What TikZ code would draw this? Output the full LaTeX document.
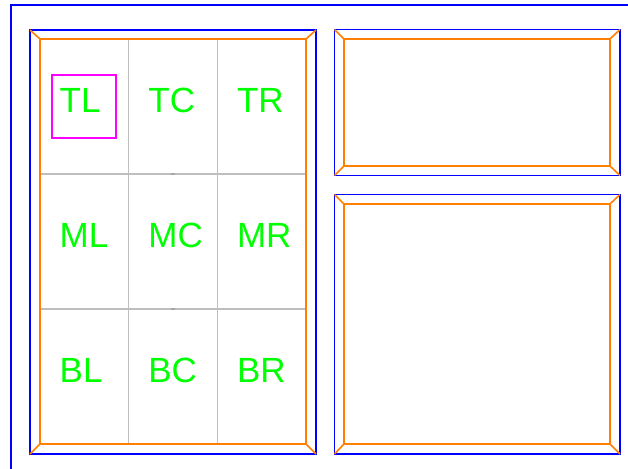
\documentclass[tikz,border=0pt]{standalone}
\usepackage{fontspec}
\setmainfont{Liberation Sans}
\usepackage{tikz}
\usetikzlibrary{positioning, calc}

\definecolor{frameblue}{RGB}{0,0,255}
\definecolor{bevelorange}{RGB}{255,128,0}
\definecolor{cellgray}{RGB}{190,190,190}
\definecolor{markgray}{RGB}{165,165,165}
\definecolor{labelgreen}{RGB}{0,255,0}
\definecolor{hilite}{RGB}{255,0,255}

\begin{document}
\begin{tikzpicture}[x=1pt, y=-1pt,
    outerbox/.style={draw=frameblue, line width=1.6pt, inner sep=0pt, outer sep=0pt},
    innerbox/.style={draw=bevelorange, line width=1.6pt, inner sep=0pt, outer sep=0pt},
    bevel/.style={draw=bevelorange, line width=1.6pt},
    cell/.style={draw=cellgray, line width=1.1pt, inner sep=0pt, outer sep=0pt, minimum width=88.67pt, minimum height=135pt},
    lbl/.style={text=labelgreen, inner sep=0pt, font=\fontsize{35}{40}\selectfont}]
    \useasboundingbox (0,0) rectangle (628,468);
    \fill[white] (0,0) rectangle (628,468);

    % outer frame runs off the page
    \node [outerbox, minimum width=640pt, minimum height=480pt] (page) at (331,245) {};

    % left panel
    \node [outerbox, minimum width=286pt, minimum height=424pt] (leftp) at (173,242) {};
    \node [innerbox, minimum width=266pt, minimum height=405pt] (lefti) at (173,241.5) {};

    % right panels
    \node [outerbox, minimum width=285.5pt, minimum height=146pt] (topp) at (477.25,102.5) {};
    \node [innerbox, minimum width=266pt, minimum height=127pt] (topi) at (477,102.5) {};
    \node [outerbox, minimum width=285.5pt, minimum height=259.5pt] (botp) at (477.25,324.25) {};
    \node [innerbox, minimum width=266pt, minimum height=240pt] (boti) at (477,324) {};

    % bevel corners
    \foreach \o/\i in {leftp/lefti, topp/topi, botp/boti} {
        \foreach \c in {north west, north east, south west, south east}
            \draw [bevel] (\o.\c) -- (\i.\c);
    }

    % 3x3 grid
    \foreach \r/\y in {T/106.5, M/241.5, B/376.5} {
        \foreach \c/\x in {L/84.33, C/173, R/261.67} {
            \node [cell] (c\r\c) at (\x,\y) {};
            \node [lbl, anchor=base west] (t\r\c) at ($(c\r\c.north west)+(19.5,73)$) {\r\c};
        }
    }
    \draw [innerbox, fill=none] (lefti.north west) rectangle (lefti.south east);

    % small marks on the middle column
    \draw [markgray, line width=1.8pt] ($(cMC.north)+(-2,0)$) -- ($(cMC.north)+(2,0)$);
    \draw [markgray, line width=1.8pt] ($(cMC.south)+(-2,0)$) -- ($(cMC.south)+(2,0)$);

    % highlight
    \node [draw=hilite, line width=1.3pt, inner sep=0pt, minimum width=64pt, minimum height=63pt] (hiTL) at (84,106.5) {};
\end{tikzpicture}
\end{document}
